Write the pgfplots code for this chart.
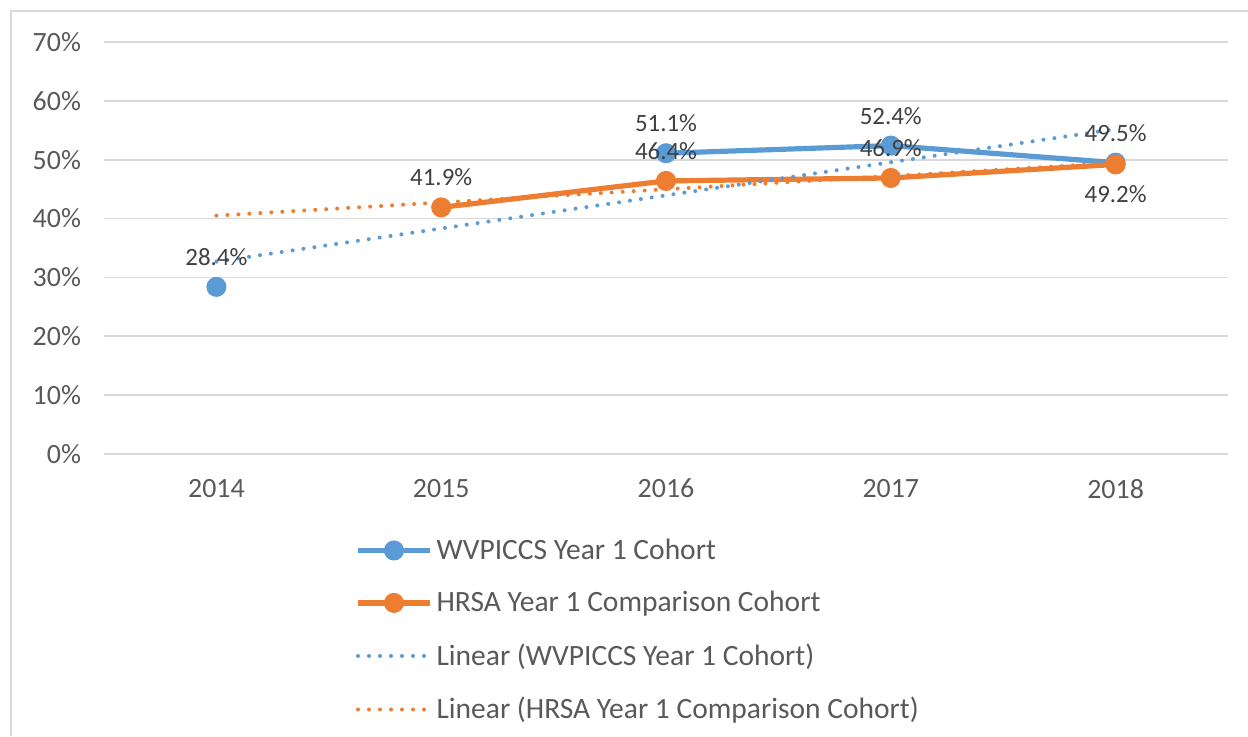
\documentclass[border=0pt]{standalone}
\usepackage{pgfplots}
\pgfplotsset{compat=1.18}
\usepackage{fontspec}
\setmainfont{Carlito}
\definecolor{wvblue}{HTML}{5B9BD5}
\definecolor{hrorange}{HTML}{ED7D31}
\definecolor{gridgray}{HTML}{D9D9D9}
\definecolor{txtgray}{HTML}{595959}
\definecolor{labgray}{HTML}{404040}
\begin{document}
\begin{tikzpicture}[x=1bp,y=1bp]
\path[use as bounding box] (0,0) rectangle (624,368);
\draw[gridgray, line width=0.9bp] (5.5,0) -- (5.5,362.5) -- (624,362.5);
\begin{axis}[
  at={(52bp,141bp)}, anchor=south west,
  scale only axis, width=562bp, height=206bp,
  xmin=-0.5, xmax=4.5, ymin=0, ymax=70,
  xtick={0,1,2,3,4}, xticklabels={2014,2015,2016,2017,2018},
  ytick={0,10,20,30,40,50,60,70},
  /pgf/number format/assume math mode=true,
  yticklabel={\pgfmathprintnumber{\tick}\%},
  axis line style={draw=none},
  major tick length=0pt,
  ymajorgrids, grid style={gridgray, line width=0.9bp},
  tick label style={font=\fontsize{14}{17}\selectfont, text=txtgray},
  xticklabel style={yshift=-9bp},
  yticklabel style={xshift=-8bp},
  unbounded coords=jump,
  clip=false,
  legend cell align=left,
  legend style={draw=none, fill=none, at={(0.2233,-0.195)}, anchor=north west,
    font=\fontsize{14.8}{17}\selectfont, text=txtgray,
    row sep=10.5bp, inner sep=0pt,
    nodes={inner sep=2bp}},
  legend image code/.code={\draw[#1, mark repeat=2, mark phase=2] plot coordinates {(0bp,0bp) (18bp,0bp) (36bp,0bp)};},
  nodes near coords={\pgfmathprintnumber[fixed,fixed zerofill,precision=1]{\pgfplotspointmeta}\%},
  every node near coord/.append style={font=\fontsize{12.5}{15}\selectfont, text=labgray, yshift=6bp},
]
\addplot[wvblue, line width=2.6bp, mark=*, mark size=3.7bp, mark options={solid}, point meta=y]
  coordinates {(0,28.4) (1,nan) (2,51.1) (3,52.4) (4,49.5)};
\addlegendentry{WVPICCS Year 1 Cohort}
\addplot[hrorange, line width=2.6bp, mark=*, mark size=3.7bp, mark options={solid}, point meta=y,
  coordinate style/.condition={\coordindex==3}{anchor=north, yshift=-12bp}]
  coordinates {(1,41.9) (2,46.4) (3,46.9) (4,49.2)};
\addlegendentry{HRSA Year 1 Comparison Cohort}
\addplot[wvblue, line width=2bp, line cap=round, dash pattern=on 0bp off 5.5bp, nodes near coords={}]
  coordinates {(0,32.69) (4,55.20)};
\addlegendentry{Linear (WVPICCS Year 1 Cohort)}
\addplot[hrorange, line width=2bp, line cap=round, dash pattern=on 0bp off 5.5bp, nodes near coords={}]
  coordinates {(0,40.50) (4,49.46)};
\addlegendentry{Linear (HRSA Year 1 Comparison Cohort)}
\end{axis}
\end{tikzpicture}
\end{document}
